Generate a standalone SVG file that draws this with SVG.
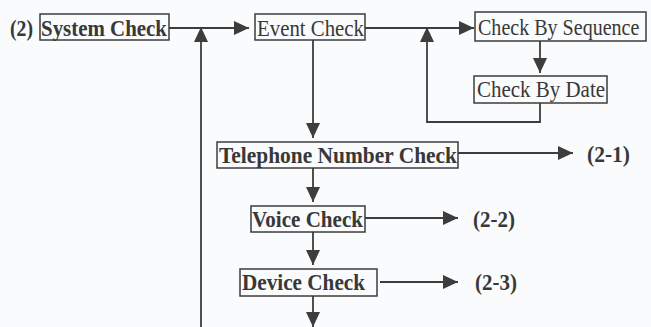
<svg xmlns="http://www.w3.org/2000/svg" width="651" height="327" viewBox="0 0 651 327">
<defs>
<style>
.bg{fill:#fafbfc}
.box{fill:none;stroke:#3d3d3d;stroke-width:1.5}
.t{font-family:"Liberation Serif","Times New Roman",serif;font-size:23px;fill:#383838}
.b{font-weight:bold}
.c{fill:none;stroke:#3d3d3d;stroke-width:1.8}
</style>
<marker id="ah" markerUnits="userSpaceOnUse" markerWidth="16" markerHeight="14" refX="15" refY="7" orient="auto">
<path d="M0,0 L15,7 L0,14 Z" fill="#3d3d3d"/>
</marker>
</defs>
<rect class="bg" x="0" y="0" width="651" height="327"/>
<g id="connectors">
<path class="c" d="M169,28 H249" marker-end="url(#ah)"/>
<path class="c" d="M201,327 V27" marker-end="url(#ah)"/>
<path class="c" d="M365,28 H474" marker-end="url(#ah)"/>
<path class="c" d="M540,103 V122 H427 V27" marker-end="url(#ah)"/>
<path class="c" d="M540,41 V73" marker-end="url(#ah)"/>
<path class="c" d="M313,40 V138" marker-end="url(#ah)"/>
<path class="c" d="M458,153 H573" marker-end="url(#ah)"/>
<path class="c" d="M313,168 V202" marker-end="url(#ah)"/>
<path class="c" d="M365,218 H458" marker-end="url(#ah)"/>
<path class="c" d="M313,232 V265" marker-end="url(#ah)"/>
<path class="c" d="M380,282 H458" marker-end="url(#ah)"/>
<path class="c" d="M313,296 V327" marker-end="url(#ah)"/>
</g>
<g id="label-2">
<text class="t b" x="10" y="36" textLength="23" lengthAdjust="spacingAndGlyphs">(2)</text>
</g>
<g id="system-check">
<rect class="box" x="40" y="14" width="129" height="26"/>
<text class="t b" x="41" y="36" textLength="126" lengthAdjust="spacingAndGlyphs">System Check</text>
</g>
<g id="event-check">
<rect class="box" x="255" y="14" width="110" height="26"/>
<text class="t" x="257" y="36" textLength="107" lengthAdjust="spacingAndGlyphs">Event Check</text>
</g>
<g id="check-by-sequence">
<rect class="box" x="475" y="12" width="171" height="29"/>
<text class="t" transform="translate(478,34.5) scale(0.872,1)" font-size="22">Check By Sequence</text>
</g>
<g id="check-by-date">
<rect class="box" x="474" y="76" width="133" height="27"/>
<text class="t" x="477" y="97" textLength="128" lengthAdjust="spacingAndGlyphs">Check By Date</text>
</g>
<g id="telephone-number-check">
<rect class="box" x="217" y="142" width="241" height="26"/>
<text class="t b" x="219" y="163" textLength="238" lengthAdjust="spacingAndGlyphs">Telephone Number Check</text>
</g>
<g id="label-2-1">
<text class="t b" x="587" y="162" textLength="43" lengthAdjust="spacingAndGlyphs">(2-1)</text>
</g>
<g id="voice-check">
<rect class="box" x="251" y="206" width="114" height="26"/>
<text class="t b" x="252" y="227" textLength="111" lengthAdjust="spacingAndGlyphs">Voice Check</text>
</g>
<g id="label-2-2">
<text class="t b" x="473" y="227" textLength="42" lengthAdjust="spacingAndGlyphs">(2-2)</text>
</g>
<g id="device-check">
<rect class="box" x="240" y="269" width="137" height="27"/>
<text class="t b" x="242" y="290" textLength="123" lengthAdjust="spacingAndGlyphs">Device Check</text>
</g>
<g id="label-2-3">
<text class="t b" x="475" y="290" textLength="42" lengthAdjust="spacingAndGlyphs">(2-3)</text>
</g>
</svg>
